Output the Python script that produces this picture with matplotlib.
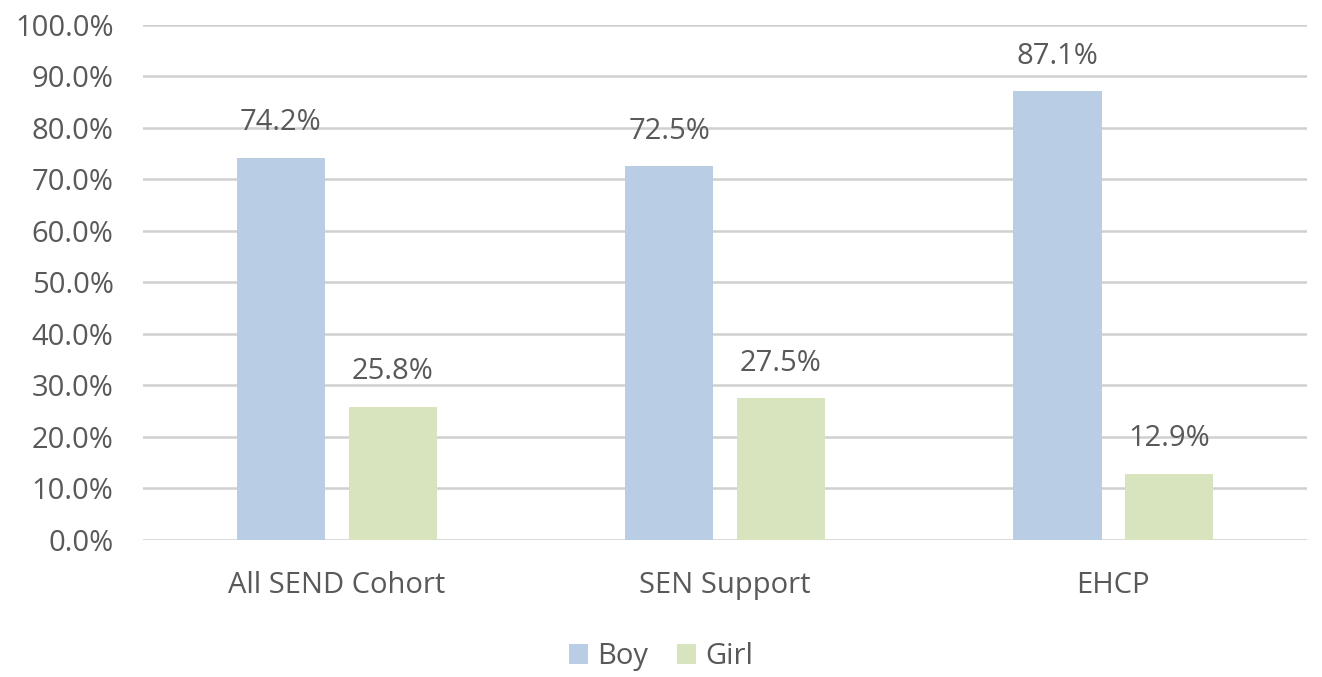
import numpy as np
import matplotlib.pyplot as plt
from matplotlib.ticker import PercentFormatter

plt.rcParams['font.family'] = ['Open Sans', 'DejaVu Sans']

categories = ['All SEND Cohort', 'SEN Support', 'EHCP']
boy = [74.2, 72.5, 87.1]
girl = [25.8, 27.5, 12.9]

text_col = '#595959'
fs = 21
fig = plt.figure(figsize=(13.22, 6.77), dpi=100)
ax = fig.add_axes([0.108, 0.2024, 0.881, 0.761])

x = np.arange(len(categories))
w = 0.227
off = 0.144
b1 = ax.bar(x - off, boy, w, color='#B9CDE5', label='Boy', zorder=3)
b2 = ax.bar(x + off, girl, w, color='#D7E4BD', label='Girl', zorder=3)

for bars, vals in [(b1, boy), (b2, girl)]:
    for r, v in zip(bars, vals):
        ax.text(r.get_x() + r.get_width() / 2, v + 4.0, f'{v:.1f}%',
                ha='center', va='bottom', fontsize=fs, color=text_col)

ax.set_xlim(-0.5, 2.5)
ax.set_ylim(0, 100)
ax.set_yticks(np.arange(0, 101, 10))
ax.yaxis.set_major_formatter(PercentFormatter(decimals=1))
ax.set_xticks(x)
ax.set_xticklabels(categories)
ax.tick_params(axis='both', length=0, labelsize=fs, labelcolor=text_col)
ax.tick_params(axis='y', pad=21)
ax.tick_params(axis='x', pad=22)
ax.grid(axis='y', color='#D0D0D0', linewidth=1.8, zorder=0)
for s in ax.spines.values():
    s.set_visible(False)

fig.legend(loc='lower center', bbox_to_anchor=(0.5, -0.03), ncol=2, frameon=False,
           fontsize=fs, labelcolor=text_col, handlelength=0.65, handleheight=0.65,
           handletextpad=0.3, columnspacing=1.0)

fig.savefig('out.png', dpi=100)
